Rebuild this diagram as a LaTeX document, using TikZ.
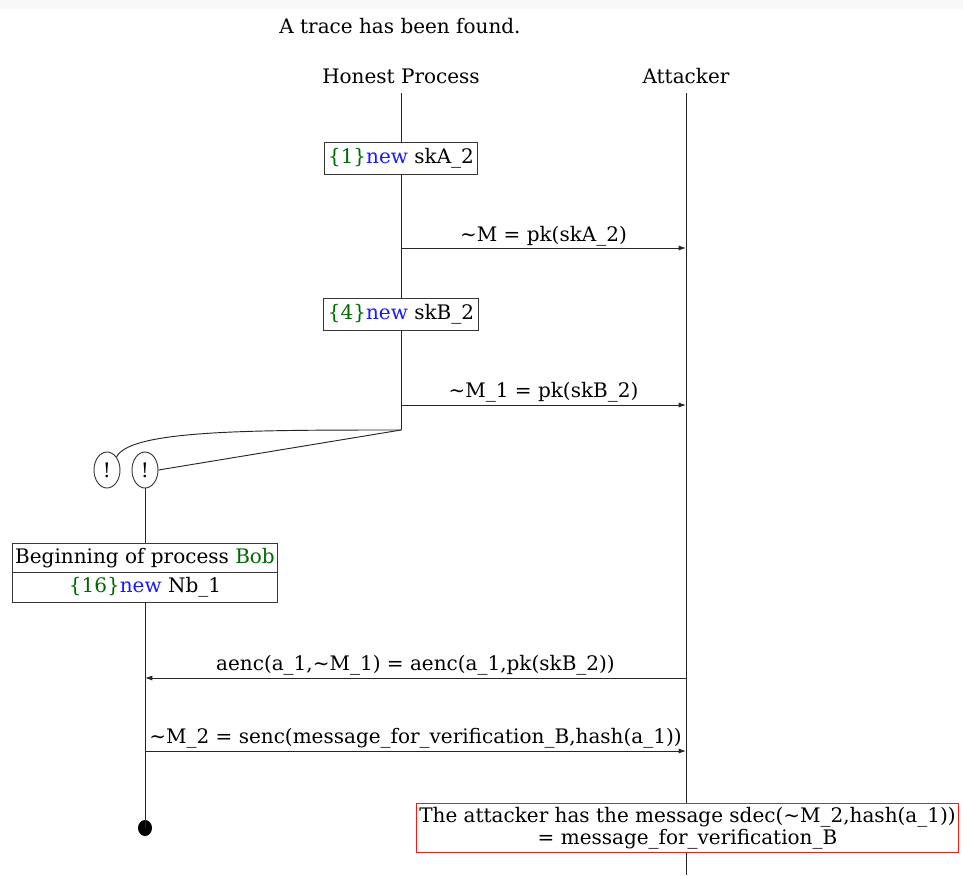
\documentclass[tikz,border=0pt]{standalone}
\usepackage{fontspec}
\setmainfont{DejaVu Serif}
\usetikzlibrary{arrows.meta,shapes.geometric,shapes.multipart}
\definecolor{kwgreen}{RGB}{0,105,0}
\definecolor{kwblue}{RGB}{25,25,255}
\definecolor{bandgray}{RGB}{248,248,248}
\definecolor{boxline}{RGB}{55,55,55}
\definecolor{alertred}{RGB}{235,30,30}
\newcommand{\tl}{\textasciitilde}
\newcommand{\idx}[1]{\textcolor{kwgreen}{\{#1\}}}
\newcommand{\kwnew}{\textcolor{kwblue}{new}}
\begin{document}
\begin{tikzpicture}[x=0.75pt,y=-0.75pt,
  font=\fontsize{15}{16.5}\selectfont,
  life/.style={draw=black!85, line width=0.7pt},
  header/.style={inner sep=0pt, anchor=base},
  evt/.style={draw=boxline, line width=0.7pt, fill=white, inner xsep=3pt, inner ysep=4.5pt},
  msg/.style={draw=black!85, line width=0.7pt, -{Latex[length=5.5pt,width=3.8pt]}},
  msglabel/.style={inner sep=0pt, anchor=base},
  bang/.style={ellipse, draw=boxline, line width=0.7pt, fill=white, minimum width=19.5pt, minimum height=27pt, inner sep=0pt},
  twopart/.style={rectangle split, rectangle split parts=2, rectangle split part align=center, draw=boxline, line width=0.7pt, fill=white, inner xsep=2pt, inner ysep=3.3pt},
  goal/.style={draw=alertred, line width=0.7pt, fill=white, align=center, inner xsep=2pt, inner ysep=2.5pt}
]
% page frame and top band
\fill[white] (0,0) rectangle (963,875);
\fill[bandgray] (0,0) rectangle (963,9);
\useasboundingbox (0,0) rectangle (963,875);

% title and headers
\node[header] (title) at (400,33) {A trace has been found.};
\node[header] (hp) at (401,83) {Honest Process};
\node[header] (att) at (686,83) {Attacker};

% lifeline anchors
\coordinate (hptop) at (401,93);
\coordinate (atttop) at (686,93);
\coordinate (attbot) at (686,875);
\coordinate (fork) at (401,430);

\draw[life] (hptop) -- (fork);
\draw[life] (atttop) -- (attbot);

% honest process events
\node[evt] (e1) at (401,158.5) {\idx{1}\kwnew{} skA\_2};
\node[evt] (e4) at (401,314.5) {\idx{4}\kwnew{} skB\_2};

% messages to the attacker
\coordinate (m1a) at (401,248);
\coordinate (m1b) at (686,248);
\draw[msg] (m1a) -- (m1b);
\node[msglabel] (l1) at (543.5,241.5) {\tl M = pk(skA\_2)};

\coordinate (m2a) at (401,405);
\coordinate (m2b) at (686,405);
\draw[msg] (m2a) -- (m2b);
\node[msglabel] (l2) at (543.5,397.5) {\tl M\_1 = pk(skB\_2)};

% replication
\node[bang] (b1) at (107,470) {!};
\node[bang] (b2) at (145,470) {!};
\draw[life] (fork) .. controls (250,430) and (130,430) .. (b1.north east);
\draw[life] (fork) -- (b2.east);

% process Bob
\node[twopart] (bob) at (145,572.5) {Beginning of process \textcolor{kwgreen}{Bob}\nodepart{two}\idx{16}\kwnew{} Nb\_1};
\draw[life] (b2.south) -- (bob.north);
\node[ellipse, fill=black, minimum width=10.5pt, minimum height=12pt, inner sep=0pt] (dot) at (145,828) {};
\draw[life] (bob.south) -- (dot.center);

% exchanged messages with Bob
\coordinate (m3a) at (686,678);
\coordinate (m3b) at (145,678);
\draw[msg] (m3a) -- (m3b);
\node[msglabel] (l3) at (415.5,670.5) {aenc(a\_1,\tl M\_1) = aenc(a\_1,pk(skB\_2))};

\coordinate (m4a) at (145,751);
\coordinate (m4b) at (686,751);
\draw[msg] (m4a) -- (m4b);
\node[msglabel] (l4) at (415.5,743.5) {\tl M\_2 = senc(message\_for\_verification\_B,hash(a\_1))};

% attacker goal
\node[goal] (g) at (687.5,828) {The attacker has the message sdec(\tl M\_2,hash(a\_1))\\= message\_for\_verification\_B};
\end{tikzpicture}
\end{document}
